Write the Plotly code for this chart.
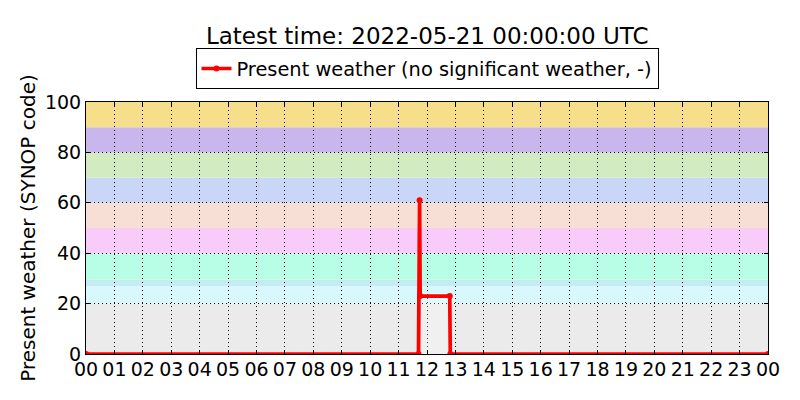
import plotly.graph_objects as go

# observation times (hours since 00 UTC) and SYNOP present weather code
obs_hours = [0.0, 11.70, 11.74, 11.76, 12.80, 12.82, 24.0]
ww_code = [0, 0, 61, 23, 23, 0, 0]

# background bands for SYNOP code groups
band_lo = [0, 20, 27, 29.5, 40, 50, 60, 70, 80, 90]
band_hi = [20, 27, 29.5, 40, 50, 60, 70, 80, 90, 100]
band_colors = ["#ebebeb", "#d9f8fd", "#c5ebf3", "#b8fde6", "#f9cbf9",
               "#f8dfd6", "#c9d6f5", "#d3ebc0", "#c9b6ec", "#f7de8a"]

hour_ticks = list(range(0, 25))
hour_labels = ["%02d" % (h % 24) for h in hour_ticks]
y_ticks = [0, 20, 40, 60, 80, 100]

FONT = "DejaVu Sans"

fig = go.Figure()

# pale box under the 23 plateau
fig.add_trace(go.Scatter(
    x=[obs_hours[3], obs_hours[3], obs_hours[4], obs_hours[4]],
    y=[0, ww_code[3], ww_code[4], 0],
    fill="toself", fillcolor="rgba(255,255,255,0.25)",
    mode="lines", line=dict(color="rgba(255,200,200,0.9)", width=1),
    showlegend=False, hoverinfo="skip"))

fig.add_trace(go.Scatter(
    x=obs_hours, y=ww_code, mode="lines+markers",
    line=dict(color="#ff0000", width=3.7),
    marker=dict(color="#ff0000", size=6),
    name="Present weather (no significant weather, -)"))

for lo, hi, c in zip(band_lo, band_hi, band_colors):
    fig.add_shape(type="rect", xref="x", yref="y", x0=0, x1=24, y0=lo, y1=hi,
                  fillcolor=c, line=dict(width=0), layer="below")

# the page puts the figure 8px in from the top-left, so margins are offset
fig.update_layout(
    width=800, height=400,
    margin=dict(l=78, r=40, t=94, b=54, autoexpand=False),
    paper_bgcolor="white", plot_bgcolor="white",
    font=dict(family=FONT, size=19, color="black"),
    title=dict(text="Latest time: 2022-05-21 00:00:00 UTC",
               x=0.524, xanchor="center", y=0.93, yanchor="middle",
               font=dict(size=23)),
    legend=dict(orientation="h", x=0.5, xanchor="center", y=1.05, yanchor="bottom",
                bordercolor="black", borderwidth=1, bgcolor="white",
                font=dict(size=19.4)),
    showlegend=True,
)

fig.update_xaxes(range=[0, 24], tickvals=hour_ticks, ticktext=hour_labels,
                 showgrid=True, gridcolor="black", griddash="1px,3px", gridwidth=1,
                 showline=True, linecolor="black", linewidth=1, mirror="ticks",
                 ticks="inside", ticklen=4, tickcolor="black", zeroline=False,
                 tickfont=dict(size=19), automargin=False, ticklabelstandoff=-2)
fig.update_yaxes(range=[0, 100], tickvals=y_ticks,
                 title=dict(text="Present weather (SYNOP code)", font=dict(size=20), standoff=3),
                 showgrid=True, gridcolor="black", griddash="1px,3px", gridwidth=1,
                 showline=True, linecolor="black", linewidth=1, mirror="ticks",
                 ticks="inside", ticklen=4, tickcolor="black", zeroline=False,
                 tickfont=dict(size=19), automargin=True)

fig.write_html("out.html")
